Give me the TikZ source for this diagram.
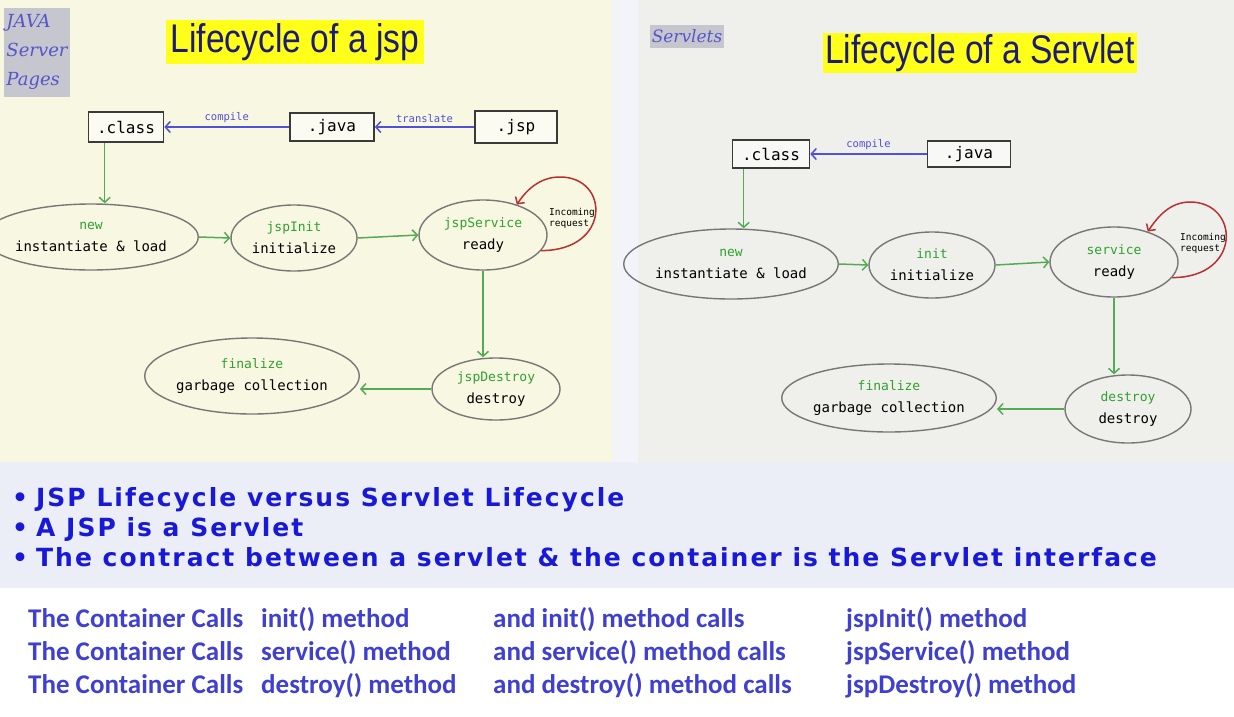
\documentclass[tikz,border=0pt]{standalone}
\usepackage{fontspec}
\usepackage{graphicx}
\setmainfont{DejaVu Sans}
\newfontfamily\monofont{DejaVu Sans Mono}
\newfontfamily\ttlfont{Liberation Sans}
\newfontfamily\callfont{Carlito}
\newfontfamily\handfont{DejaVu Serif}
\newfontfamily\bulfont{DejaVu Sans}[LetterSpace=8]
\usetikzlibrary{positioning}
\usetikzlibrary{shapes.geometric}
\usetikzlibrary{arrows.meta}
\usepackage{xcolor}
\definecolor{jspbg}{HTML}{F8F7E2}
\definecolor{srvbg}{HTML}{EFF0EC}
\definecolor{gapbg}{HTML}{F3F4F9}
\definecolor{bandbg}{HTML}{ECEEF7}
\definecolor{hlgrey}{HTML}{C6C6CE}
\definecolor{handblue}{HTML}{5555CC}
\definecolor{navy}{HTML}{1C1C78}
\definecolor{hlyellow}{HTML}{FFFF1A}
\definecolor{boxline}{HTML}{3A3A3A}
\definecolor{cmpblue}{HTML}{5050D8}
\definecolor{stgreen}{HTML}{30A030}
\definecolor{arrgreen}{HTML}{55AA55}
\definecolor{ellline}{HTML}{777777}
\definecolor{loopred}{HTML}{B83030}
\definecolor{bullblue}{HTML}{1818D8}
\definecolor{callblue}{HTML}{4040D0}

\begin{document}
\begin{tikzpicture}[x=1pt, y=-1pt, >={Straight Barb[length=5pt, width=11pt]},
		hand/.style	= {rectangle, fill=hlgrey, text=handblue, align=left, inner sep=2,
				font=\handfont\itshape\fontsize{18}{29}\selectfont},
		ttl/.style	= {rectangle, fill=hlyellow, text=navy, inner sep=0,
				font=\ttlfont\fontsize{40}{40}\selectfont},
		cls/.style	= {rectangle, draw=boxline, fill=white!55!jspbg, line width=1.6, inner sep=0,
				font=\monofont\fontsize{16}{16}\selectfont},
		st/.style	= {ellipse, draw=ellline, line width=1.4, inner sep=0, align=center,
				font=\monofont\fontsize{14}{22}\selectfont},
		lbl/.style	= {text=cmpblue, font=\monofont\fontsize{10.5}{10.5}\selectfont, inner sep=4},
		inc/.style	= {align=left, inner sep=0, font=\monofont\fontsize{9.5}{11}\selectfont},
		cmp/.style	= {->, cmpblue, line width=1.5},
		go/.style	= {->, arrgreen, line width=1.5},
		lp/.style	= {->, loopred, line width=1.5},
		bul/.style	= {anchor=base west, inner sep=0, text=bullblue,
				font=\bulfont\bfseries\fontsize{25}{25}\selectfont},
		call/.style	= {anchor=base west, inner sep=0, text=callblue,
				font=\callfont\bfseries\fontsize{27}{27}\selectfont}
		]
		\newcommand{\gl}[1]{{\color{stgreen}\fontsize{13}{13}\selectfont #1}}

		%Backgrounds
		\useasboundingbox (0, 0) rectangle (1234, 716);
		\fill[white]	(0, 0)		rectangle	(1234, 716);
		\fill[gapbg]	(0, 0)		rectangle	(1234, 462);
		\fill[jspbg]	(0, 0)		rectangle	(612, 462);
		\fill[srvbg]	(638, 0)	rectangle	(1234, 462);
		\fill[bandbg]	(0, 462)	rectangle	(1234, 588);

		%JSP nodes
		\node[hand, minimum width=62, minimum height=89]	(jtag)	at	(37, 52)	{JAVA\\Server\\Pages};
		\node[ttl, minimum width=258, minimum height=44]	(jttl)	at	(295, 42)	{\scalebox{0.84}[1]{Lifecycle of a jsp}};
		\node[cls, minimum width=75, minimum height=30]	(jcls)	at	(126, 127)	{.class};
		\node[cls, minimum width=84, minimum height=28]	(jjava)	at	(332, 127)	{.java};
		\node[cls, minimum width=82, minimum height=32]	(jjsp)	at	(516, 127)	{.jsp};
		\node[st, minimum width=180, minimum height=66]	(jnew)	at	(91, 237)	{\gl{new}\\instantiate \& load};
		\node[st, minimum width=126, minimum height=66]	(jinit)	at	(294, 238)	{\gl{jspInit}\\initialize};
		\node[st, minimum width=128, minimum height=70]	(jsrv)	at	(483, 235)	{\gl{jspService}\\ready};
		\node[st, minimum width=128, minimum height=62]	(jdes)	at	(496, 389)	{\gl{jspDestroy}\\destroy};
		\node[st, minimum width=208, minimum height=76]	(jfin)	at	(252, 376)	{\gl{finalize}\\garbage collection};
		\node[inc]	(jinc)	at	(572, 218)	{Incoming\\request};

		%JSP lines
		\draw[cmp]	(jjava.west)	to	node[above, lbl]	{compile}	(jcls.east);
		\draw[cmp]	(jjsp.west)	to	node[above, lbl]	{translate}	(jjava.east);
		\draw[go]	([xshift=17]jcls.south west)	to	([xshift=17]jcls.south west |- jnew.north);
		\draw[go]	(jnew.east)	to	(jinit.west);
		\draw[go]	(jinit.east)	to	(jsrv.west);
		\draw[go]	(jsrv.south)	to	(jsrv.south |- jdes.north);
		\draw[go]	(jdes.west)	to	(jdes.west -| jfin.east);
		\draw[lp]	(jsrv.-15)	.. controls +(70, 0) and +(50, 0) ..	(560, 177)
				.. controls +(-20, 0) and +(10, -15) ..	(jsrv.42);

		%Servlet nodes
		\node[hand, minimum width=72, minimum height=23, font=\handfont\itshape\fontsize{17}{17}\selectfont]	(stag)	at	(687, 36)	{Servlets};
		\node[ttl, minimum width=314, minimum height=40]	(sttl)	at	(980, 53)	{\scalebox{0.84}[1]{Lifecycle of a Servlet}};
		\node[cls, minimum width=77, minimum height=28, fill=white!55!srvbg]	(scls)	at	(771, 154)	{.class};
		\node[cls, minimum width=83, minimum height=26, fill=white!55!srvbg]	(sjava)	at	(969, 154)	{.java};
		\node[st, minimum width=176, minimum height=70]	(snew)	at	(731, 264)	{\gl{new}\\instantiate \& load};
		\node[st, minimum width=126, minimum height=66]	(sinit)	at	(932, 265)	{\gl{init}\\initialize};
		\node[st, minimum width=128, minimum height=70]	(ssrv)	at	(1114, 262)	{\gl{service}\\ready};
		\node[st, minimum width=126, minimum height=68]	(sdes)	at	(1128, 409)	{\gl{destroy}\\destroy};
		\node[st, minimum width=202, minimum height=68]	(sfin)	at	(889, 398)	{\gl{finalize}\\garbage collection};
		\node[inc]	(sinc)	at	(1203, 243)	{Incoming\\request};

		%Servlet lines
		\draw[cmp]	(sjava.west)	to	node[above, lbl]	{compile}	(scls.east);
		\draw[go]	([xshift=12]scls.south west)	to	([xshift=12]scls.south west |- snew.north);
		\draw[go]	(snew.east)	to	(sinit.west);
		\draw[go]	(sinit.east)	to	(ssrv.west);
		\draw[go]	(ssrv.south)	to	(ssrv.south |- sdes.north);
		\draw[go]	(sdes.west)	to	(sdes.west -| sfin.east);
		\draw[lp]	(ssrv.-15)	.. controls +(70, 0) and +(50, 0) ..	(1190, 202)
				.. controls +(-20, 0) and +(10, -15) ..	(ssrv.42);

		%Bullets
		\node[bul]	(b1)	at	(12, 506)	{\textbullet\hspace{8pt}JSP Lifecycle versus Servlet Lifecycle};
		\node[bul]	(b2)	at	(12, 536)	{\textbullet\hspace{8pt}A JSP is a Servlet};
		\node[bul]	(b3)	at	(12, 566)	{\textbullet\hspace{8pt}The contract between a servlet \& the container is the Servlet interface};

		%Calls
		\foreach \r/\y/\m/\j in {1/627/init/jspInit, 2/660/service/jspService, 3/693/destroy/jspDestroy}{
			\node[call]	(c\r a)	at	(28, \y)	{The Container Calls};
			\node[call]	(c\r b)	at	(261, \y)	{\m() method};
			\node[call]	(c\r c)	at	(493, \y)	{and \m() method calls};
			\node[call]	(c\r d)	at	(846, \y)	{\j() method};
		}
	\end{tikzpicture}
\end{document}
